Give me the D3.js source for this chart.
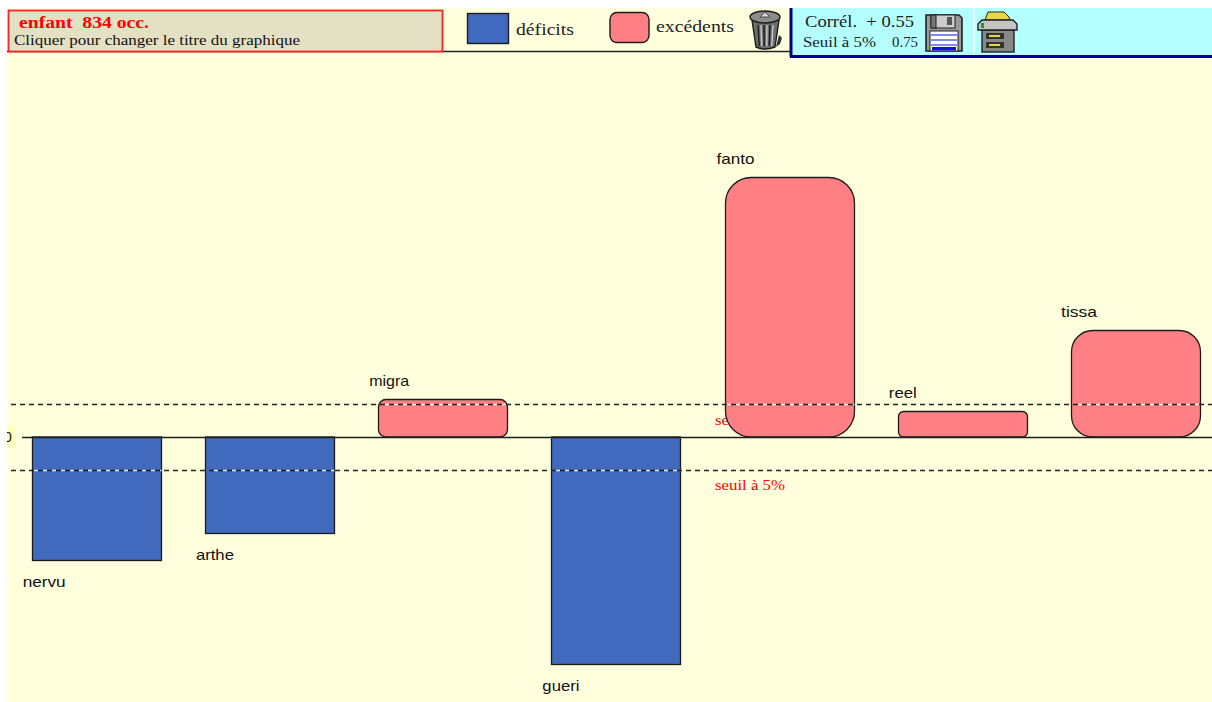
<!DOCTYPE html>
<html><head><meta charset="utf-8">
<script src="https://cdnjs.cloudflare.com/ajax/libs/d3/7.8.5/d3.min.js"></script>
<style>html,body{margin:0;padding:0;background:#fff;overflow:hidden}svg{display:block}</style>
</head><body><svg id="c" width="1212" height="702"></svg>
<script>
const categories=["nervu","arthe","migra","gueri","fanto","reel","tissa"];
const values=[-7.33,-5.72,2.26,-13.5,15.5,1.55,6.37];
const threshold=1.96;
const titleText="enfant  834 occ.";
const subtitleText="Cliquer pour changer le titre du graphique";
const thresholdLabel="seuil à 5%";
const legendLabels=["déficits","excédents"];
const correlation=["Corrél.  + 0.55","Seuil à 5%","0.75"];

const NEG="#4169BE",POS="#FF8084",BG="#FFFFDD",INK="#1c1c1c";
const SERIF="'Liberation Serif',serif",SANS="'Liberation Sans',Arial,sans-serif";
const labelDx=[-9,-9,-9,-9,-8,-9,-10];
const labelW=[43,38,40,37,38,28,36];
const svg=d3.select("#c");
const x=d3.scaleBand().domain(categories).range([31.7,1201]).paddingInner(0.25);
const y=d3.scaleLinear().domain([-13.5,15.5]).range([664,177]);
const y0=Math.round(y(0));
const left=d=>Math.round(x(d))+.5;
const barW=Math.round(x.bandwidth())-1;
const fit=(s,w)=>s.attr("textLength",w).attr("lengthAdjust","spacingAndGlyphs");

svg.append("rect").attr("x",7).attr("y",8).attr("width",1205).attr("height",694).attr("fill",BG);

// red threshold labels (upper one sits behind the fanto bar)
[424.5,490].forEach(ty=>fit(svg.append("text").attr("x",715).attr("y",ty).attr("font-family",SERIF).attr("font-size",15).attr("fill","#f00").text(thresholdLabel),70));

// positive bars
const pos=categories.filter((d,i)=>values[i]>0);
svg.selectAll("path.pos").data(pos).join("path").attr("class","pos").attr("d",d=>{
  const v=values[categories.indexOf(d)];
  const l=left(d),w=barW,t=Math.round(y(v))+.5,b=y0,h=b-t,r=Math.min(w,h)*0.2;
  return `M${l+r},${t}H${l+w-r}A${r},${r} 0 0 1 ${l+w},${t+r}V${b-r}A${r},${r} 0 0 1 ${l+w-r},${b}H${l+r}A${r},${r} 0 0 1 ${l},${b-r}V${t+r}A${r},${r} 0 0 1 ${l+r},${t}Z`;
}).attr("fill",POS).attr("stroke",INK).attr("stroke-width",1.3);
// negative bars
const neg=categories.filter((d,i)=>values[i]<0);
svg.selectAll("rect.neg").data(neg).join("rect").attr("class","neg")
 .attr("x",d=>left(d)).attr("y",y0).attr("width",barW)
 .attr("height",d=>Math.round(y(values[categories.indexOf(d)]))-y0+.5)
 .attr("fill",NEG).attr("stroke",INK).attr("stroke-width",1.3);

// zero line and tick
svg.append("line").attr("x1",22).attr("x2",1212).attr("y1",y0+.5).attr("y2",y0+.5).attr("stroke",INK).attr("stroke-width",1.3);
svg.append("rect").attr("x",7).attr("y",426).attr("width",9).attr("height",21).attr("fill","#FFFFB8");
svg.append("text").attr("x",4).attr("y",442).attr("font-family",SANS).attr("font-size",14).attr("fill","#111").text("0");
svg.append("rect").attr("x",0).attr("y",426).attr("width",7).attr("height",21).attr("fill","#fff");

// threshold lines, with the light gaps they leave inside crossing bars
[threshold,-threshold].forEach(t=>{
  const ly=Math.round(y(t))+.5;
  svg.append("line").attr("x1",11).attr("x2",1212).attr("y1",ly).attr("y2",ly).attr("stroke","#222").attr("stroke-width",1.4).attr("stroke-dasharray","5 4");
  categories.filter((d,i)=>t>0?values[i]>t:values[i]<t).forEach(d=>{
    const sx=left(d)+1,first=16+Math.ceil((sx-16)/9)*9;
    svg.append("line").attr("x1",first).attr("x2",left(d)+barW).attr("y1",ly).attr("y2",ly)
      .attr("stroke","#fff").attr("stroke-opacity",.85).attr("stroke-width",1.4)
      .attr("stroke-dasharray","4 5");
  });
});

// category labels
svg.selectAll("text.lab").data(categories).join("text").attr("class","lab")
 .attr("x",(d,i)=>x(d)+labelDx[i])
 .attr("y",(d,i)=>values[i]>0?y(values[i])-13:y(values[i])+27)
 .attr("font-family",SANS).attr("font-size",15).attr("fill","#111")
 .attr("textLength",(d,i)=>labelW[i]).attr("lengthAdjust","spacingAndGlyphs").text(d=>d);

// header
svg.append("line").attr("x1",7).attr("x2",791).attr("y1",51.5).attr("y2",51.5).attr("stroke","#222").attr("stroke-width",1.4);
svg.append("rect").attr("x",8.5).attr("y",10.5).attr("width",434).attr("height",41).attr("fill","#E4E0C4").attr("stroke","#f22").attr("stroke-width",1.8);
fit(svg.append("text").attr("x",19).attr("y",28).attr("xml:space","preserve").style("white-space","pre").attr("font-family",SERIF).attr("font-size",16).attr("font-weight","bold").attr("fill","#f00").text(titleText),130);
fit(svg.append("text").attr("x",14).attr("y",45).attr("font-family",SERIF).attr("font-size",14.5).attr("fill","#111").text(subtitleText),286);

// legend
svg.append("rect").attr("x",467.5).attr("y",13.5).attr("width",41).attr("height",30).attr("fill",NEG).attr("stroke",INK).attr("stroke-width",1.4);
svg.append("rect").attr("x",610).attr("y",12.5).attr("width",39).attr("height",30).attr("rx",7).attr("fill",POS).attr("stroke",INK).attr("stroke-width",1.4);
fit(svg.append("text").attr("x",516).attr("y",35).attr("font-family",SERIF).attr("font-size",17).attr("fill","#222").text(legendLabels[0]),58);
fit(svg.append("text").attr("x",656).attr("y",32).attr("font-family",SERIF).attr("font-size",17).attr("fill","#222").text(legendLabels[1]),78);

// trash icon
const tr=svg.append("g").attr("transform","translate(749,10)");
tr.append("path").attr("d","M3,10L7,37Q16,41 26,37L30,10Z").attr("fill","#6e6e6e").attr("stroke","#1c1c1c").attr("stroke-width",1.4);
tr.append("ellipse").attr("cx",16).attr("cy",7).attr("rx",15).attr("ry",6).attr("fill","#8c8c8c").attr("stroke","#1c1c1c").attr("stroke-width",1.4);
tr.append("path").attr("d","M11,7L16,2L21,7Z").attr("fill","#d8d8d8").attr("stroke","#333").attr("stroke-width",.8);
[9,12,15,18,21,24].forEach((bx,i)=>tr.append("line").attr("x1",bx).attr("x2",bx+(2.5-i)*.5).attr("y1",15).attr("y2",36).attr("stroke",i%2?"#c8c8c8":"#1c1c1c").attr("stroke-width",1.4));
tr.append("path").attr("d","M30,25L33,28L31,34L27,37Z").attr("fill","#333");

// correlation panel
svg.append("rect").attr("x",791).attr("y",8).attr("width",421).attr("height",47).attr("fill","#B4FFFF");
svg.append("line").attr("x1",791).attr("x2",791).attr("y1",8).attr("y2",57).attr("stroke","#000080").attr("stroke-width",3);
svg.append("line").attr("x1",790).attr("x2",1212).attr("y1",56.5).attr("y2",56.5).attr("stroke","#000080").attr("stroke-width",3);
svg.append("rect").attr("x",973).attr("y",7).attr("width",2).attr("height",46).attr("fill","#E8FFFF");
fit(svg.append("text").attr("x",805).attr("y",27).attr("xml:space","preserve").style("white-space","pre").attr("font-family",SERIF).attr("font-size",17).attr("fill","#222").text(correlation[0]),109);
fit(svg.append("text").attr("x",803).attr("y",47).attr("font-family",SERIF).attr("font-size",15).attr("fill","#222").text(correlation[1]),73);
fit(svg.append("text").attr("x",892).attr("y",47).attr("font-family",SERIF).attr("font-size",14).attr("fill","#222").text(correlation[2]),26);

// floppy icon
const fl=svg.append("g").attr("transform","translate(925,14)");
fl.append("path").attr("d","M1,1H34L37,4V37H1Z").attr("fill","#999").attr("stroke","#222").attr("stroke-width",1.6);
fl.append("rect").attr("x",6).attr("y",1).attr("width",24).attr("height",13).attr("fill","#ccc").attr("stroke","#222");
fl.append("rect").attr("x",6).attr("y",1).attr("width",5).attr("height",13).attr("fill","#777").attr("stroke","#222");
fl.append("rect").attr("x",22).attr("y",3).attr("width",5).attr("height",8).attr("fill","#555");
fl.append("rect").attr("x",5).attr("y",17).attr("width",28).attr("height",20).attr("fill","#fff").attr("stroke","#222");
[20,25,30].forEach(s=>fl.append("rect").attr("x",6).attr("y",s).attr("width",26).attr("height",2).attr("fill","#7C8CE8"));
fl.append("rect").attr("x",7).attr("y",33).attr("width",24).attr("height",3.5).attr("fill","#1010E0");

// printer icon
const pr=svg.append("g").attr("transform","translate(977,12)");
pr.append("path").attr("d","M8,8L11,0H27L32,5L33,8Z").attr("fill","#E8D840").attr("stroke","#222");
pr.append("rect").attr("x",5).attr("y",18).attr("width",32).attr("height",22).attr("fill","#888").attr("stroke","#222").attr("stroke-width",1.4);
pr.append("path").attr("d","M1,12L5,8H36L40,12V18H1Z").attr("fill","#c4c4c4").attr("stroke","#222").attr("stroke-width",1.4);
pr.append("rect").attr("x",4).attr("y",11).attr("width",3).attr("height",5).attr("fill","#1a9a40");
[21,30].forEach(s=>{
  pr.append("rect").attr("x",9).attr("y",s).attr("width",18).attr("height",6).attr("fill","#333");
  pr.append("rect").attr("x",12).attr("y",s+2).attr("width",11).attr("height",2).attr("fill","#E8D840");
});
</script></body></html>
